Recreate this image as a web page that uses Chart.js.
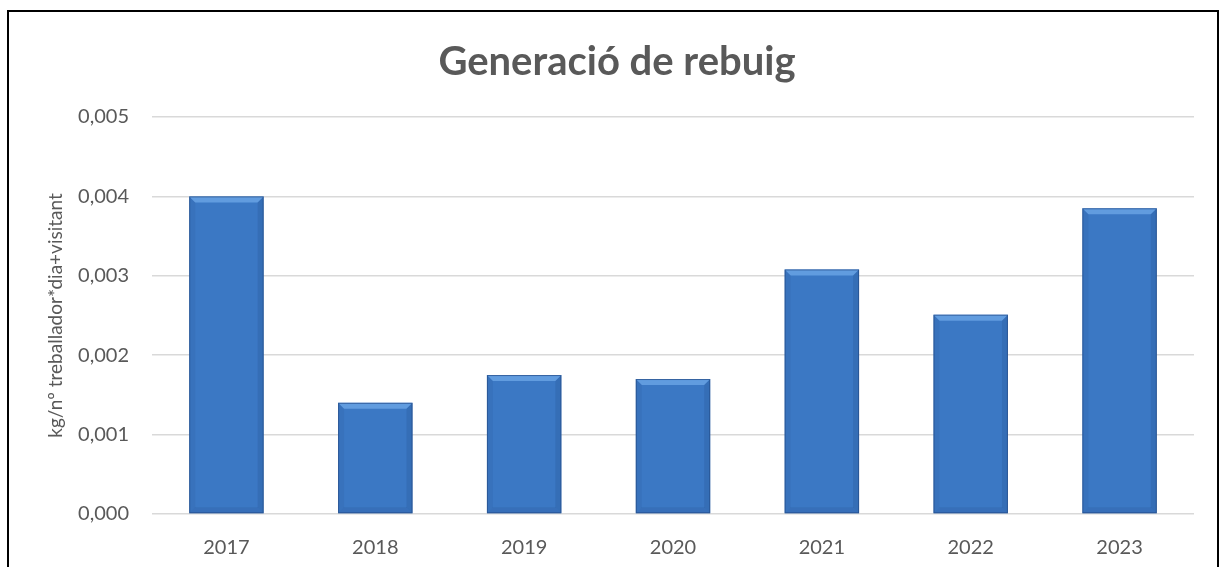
<!DOCTYPE html>
<html>
<head>
<meta charset="utf-8">
<script src="https://cdn.jsdelivr.net/npm/chart.js@4.4.1/dist/chart.umd.min.js"></script>
<style>
html,body{margin:0;padding:0;background:#fff;overflow:hidden;}
#wrap{position:absolute;left:0;top:0;width:1223px;height:567px;}
#frame{position:absolute;left:7px;top:10px;width:1212px;height:600px;border:2px solid #000;box-sizing:border-box;pointer-events:none;}
</style>
</head>
<body>
<div id="wrap"><canvas id="c" width="1223" height="567"></canvas></div>
<div id="frame"></div>
<script>
const categories = ['2017','2018','2019','2020','2021','2022','2023'];
const values = [0.0040, 0.0014, 0.00175, 0.0017, 0.00308, 0.00251, 0.00385];
const yTicks = [0, 0.001, 0.002, 0.003, 0.004, 0.005];
const chartTitle = 'Generació de rebuig';
const yTitle = 'kg/nº treballador*dia+visitant';

const FONT = 'Lato, "Liberation Sans", sans-serif';

function barFill(ctx){
  const chart = ctx.chart;
  const el = chart.getDatasetMeta(ctx.datasetIndex).data[ctx.dataIndex];
  if(!el || el.base === undefined || isNaN(el.y)) return '#3b78c4';
  const g = chart.ctx.createLinearGradient(0, el.y, 0, el.base);
  g.addColorStop(0, '#4689db');
  g.addColorStop(1, '#3463a9');
  return g;
}

const bevel = {
  id: 'bevel',
  afterDatasetsDraw(chart){
    const c = chart.ctx;
    chart.getDatasetMeta(0).data.forEach(el => {
      const {x, y, width, base} = el.getProps(['x','y','width','base'], true);
      const l = x - width/2, r = x + width/2, t = y, b = base;
      const s = Math.min(6, (b - t)/2);
      c.save();
      c.fillStyle = 'rgba(130,185,245,0.55)';
      c.beginPath(); c.moveTo(l,t); c.lineTo(r,t); c.lineTo(r-s,t+s); c.lineTo(l+s,t+s); c.closePath(); c.fill();
      c.fillStyle = 'rgba(20,50,100,0.08)';
      c.beginPath(); c.moveTo(l,t); c.lineTo(l+s,t+s); c.lineTo(l+s,b-s); c.lineTo(l,b); c.closePath(); c.fill();
      c.fillStyle = 'rgba(20,50,100,0.14)';
      c.beginPath(); c.moveTo(r,t); c.lineTo(r-s,t+s); c.lineTo(r-s,b-s); c.lineTo(r,b); c.closePath(); c.fill();
      c.fillStyle = 'rgba(15,40,85,0.10)';
      c.beginPath(); c.moveTo(l,b); c.lineTo(l+s,b-s); c.lineTo(r-s,b-s); c.lineTo(r,b); c.closePath(); c.fill();
      c.strokeStyle = 'rgba(35,75,135,0.7)';
      c.lineWidth = 1;
      c.strokeRect(l+0.5, t+0.5, width-1, b-t-1);
      c.restore();
    });
  }
};

new Chart(document.getElementById('c'), {
  type: 'bar',
  data: {
    labels: categories,
    datasets: [{
      data: values,
      backgroundColor: barFill,
      borderWidth: 0,
      barPercentage: 0.5,
      categoryPercentage: 1.0
    }]
  },
  options: {
    responsive: false,
    animation: false,
    layout: { padding: { left: 40, right: 29, top: 0, bottom: 0 } },
    plugins: {
      legend: { display: false },
      tooltip: { enabled: false },
      title: {
        display: true,
        text: chartTitle,
        color: '#595959',
        font: { family: FONT, size: 40, weight: 'bold' },
        padding: { top: 38, bottom: 31 }
      }
    },
    scales: {
      x: {
        grid: { display: false, drawTicks: false },
        border: { display: false },
        ticks: { color: '#595959', font: { family: FONT, size: 20 }, padding: 22 },
        afterFit(axis){ axis.height = 53; }
      },
      y: {
        min: 0, max: 0.005,
        afterBuildTicks(axis){ axis.ticks = yTicks.map(v => ({value: v})); },
        grid: { color: '#d9d9d9', lineWidth: 1.5, drawTicks: false },
        border: { display: false },
        ticks: {
          color: '#595959', font: { family: FONT, size: 20 }, padding: 23,
          callback: v => v.toFixed(3).replace('.', ',')
        },
        title: {
          display: true, text: yTitle, color: '#595959',
          font: { family: FONT, size: 19 }, padding: { top: 4, bottom: 0 }
        },
        afterFit(axis){ axis.width = 112; }
      }
    }
  },
  plugins: [bevel]
});
</script>
</body>
</html>
